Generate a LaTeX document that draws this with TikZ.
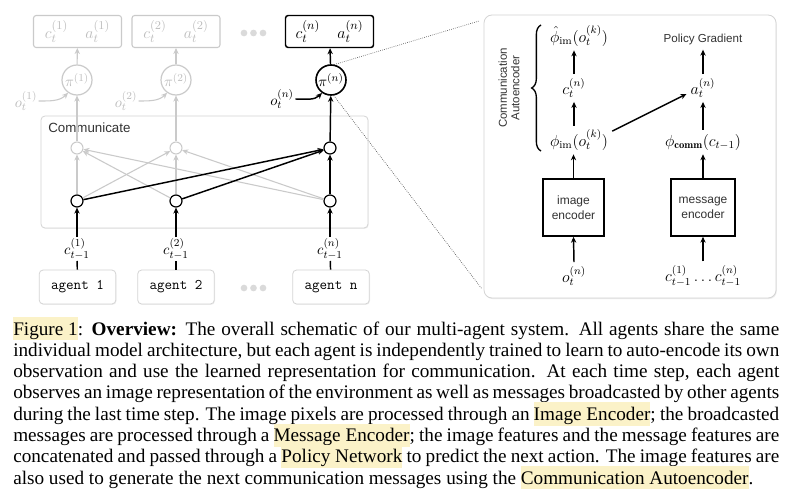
\documentclass[tikz,border=0pt]{standalone}
\usepackage{fontspec}
\newfontfamily\capfont{Liberation Serif}
\newfontfamily\diagsans{Liberation Sans}
\usetikzlibrary{arrows.meta,shadows,decorations.pathreplacing}
\definecolor{fade}{HTML}{CACACA}
\definecolor{fadetext}{HTML}{BEBEBE}
\definecolor{hlyellow}{HTML}{FBF2C8}
\definecolor{boxgray}{HTML}{D4D4D4}
\definecolor{dotline}{HTML}{555555}
\newcommand\hlt[1]{{\setlength{\fboxsep}{0pt}\colorbox{hlyellow}{\rule[-4pt]{0pt}{17.5pt}#1}}}
\begin{document}
\begin{tikzpicture}[x=0.75pt,y=-0.75pt,
  >={Stealth[length=4.5pt,width=4pt]},
  fadeln/.style={draw=fade, line width=0.8pt},
  blkln/.style={draw=black, line width=1.1pt},
  topbox/.style={rectangle, rounded corners=2pt, minimum width=66pt, minimum height=24pt, inner sep=0pt, font=\fontsize{13}{15}\selectfont},
  pinode/.style={circle, minimum size=22.5pt, inner sep=0pt, font=\fontsize{11}{13}\selectfont},
  unitnode/.style={circle, minimum size=9pt, inner sep=0pt, fill=white},
  agentbox/.style={rectangle, rounded corners=3pt, draw=boxgray, fill=white, line width=0.6pt, minimum width=57.5pt, minimum height=25.5pt, inner sep=0pt, font=\ttfamily\fontsize{11}{13}\selectfont, drop shadow={shadow xshift=0.5pt, shadow yshift=-0.7pt, opacity=0.12}},
  lbl/.style={inner sep=1pt, font=\fontsize{11}{13}\selectfont},
  gdot/.style={circle, fill=fade!70, minimum size=5pt, inner sep=0pt},
  rmath/.style={inner sep=3pt, font=\fontsize{12}{14}\selectfont},
  encbox/.style={rectangle, draw=black, line width=1.1pt, minimum height=42.75pt, inner sep=0pt, align=center, font=\diagsans\fontsize{9}{11}\selectfont, text=black!80},
  dotted link/.style={dotline, line width=0.5pt, densely dotted},
  capline/.style={anchor=base west, inner sep=0pt, font=\capfont\fontsize{14.4}{16}\selectfont}
]
\useasboundingbox (0,0) rectangle (788,496);
\fill[white] (0,0) rectangle (788,496);

% ---------------- right panel ----------------
\node[rectangle, rounded corners=6pt, draw=boxgray, fill=white, line width=0.6pt, minimum width=219pt, minimum height=212.25pt, drop shadow={shadow xshift=0.6pt, shadow yshift=-0.8pt, opacity=0.15}] (panel) at (630,156.5) {};

% ---------------- left: communicate box ----------------
\node[rectangle, rounded corners=3pt, draw=boxgray, fill=white, line width=0.6pt, minimum width=245.25pt, minimum height=84pt, drop shadow={shadow xshift=0.5pt, shadow yshift=-0.7pt, opacity=0.12}] (comm) at (204.5,172) {};
\node[anchor=west, inner sep=0pt, font=\diagsans\fontsize{10}{12}\selectfont, text=black!80] (commlbl) at (48,128) {Communicate};

% top output boxes
\node[topbox, draw=fade, line width=0.8pt, text=fadetext] (b1) at (77.5,31.5) {$c_t^{(1)}\quad a_t^{(1)}$};
\node[topbox, draw=fade, line width=0.8pt, text=fadetext] (b2) at (176,31.5) {$c_t^{(2)}\quad a_t^{(2)}$};
\node[topbox, draw=black, line width=1.1pt] (bn) at (329.5,31.5) {$c_t^{(n)}\quad a_t^{(n)}$};
\node[gdot] (td1) at (244,33) {};
\node[gdot] (td2) at (253.5,33) {};
\node[gdot] (td3) at (263,33) {};

% policy circles
\node[pinode, draw=fade, line width=0.9pt, text=fadetext] (p1) at (77,80) {$\pi^{(1)}$};
\node[pinode, draw=fade, line width=0.9pt, text=fadetext] (p2) at (176,80) {$\pi^{(2)}$};
\node[pinode, draw=black, line width=1.2pt] (pn) at (331,80) {$\pi^{(n)}$};

% observation labels
\node[lbl, text=fadetext] (o1) at (26,101) {$o_t^{(1)}$};
\node[lbl, text=fadetext] (o2) at (126,101) {$o_t^{(2)}$};
\node[lbl] (on) at (282,99) {$o_t^{(n)}$};

% units
\node[unitnode, draw=fade, line width=0.8pt] (u1) at (77,148) {};
\node[unitnode, draw=fade, line width=0.8pt] (u2) at (176,148) {};
\node[unitnode, draw=black, line width=0.9pt] (un) at (330,148) {};
\node[unitnode, draw=black, line width=0.9pt] (l1) at (77,201) {};
\node[unitnode, draw=black, line width=0.9pt] (l2) at (176,201) {};
\node[unitnode, draw=black, line width=0.9pt] (ln) at (330,201) {};

% message labels
\node[lbl] (c1) at (77,249) {$c_{t-1}^{(1)}$};
\node[lbl] (c2) at (176,249) {$c_{t-1}^{(2)}$};
\node[lbl] (cn) at (330,249) {$c_{t-1}^{(n)}$};

% agents
\node[agentbox] (a1) at (77.5,287) {agent 1};
\node[agentbox] (a2) at (176,287) {agent 2};
\node[agentbox] (an) at (331,287) {agent n};
\node[gdot] (ad1) at (244,288) {};
\node[gdot] (ad2) at (253.5,288) {};
\node[gdot] (ad3) at (263,288) {};

% gray connectors
\draw[fadeln,->] (l1) -- (u1);
\draw[fadeln,->] (l1) -- (u2);
\draw[fadeln,->] (l2) -- (u1);
\draw[fadeln,->] (l2) -- (u2);
\draw[fadeln,->] (ln) -- (u1);
\draw[fadeln,->] (ln) -- (u2);
\draw[fadeln,->] (u1) -- (p1);
\draw[fadeln,->] (u2) -- (p2);
\draw[fadeln,->] (p1) -- (b1);
\draw[fadeln,->] (p2) -- (b2);
\draw[fadeln,->] (o1.east) to[out=0,in=225] (p1.235);
\draw[fadeln,->] (o2.east) to[out=0,in=225] (p2.235);

% black connectors
\draw[blkln,->] (l1) -- (un);
\draw[blkln,->] (l2) -- (un);
\draw[blkln,->] (ln) -- (un);
\draw[blkln,->] (un) -- (pn);
\draw[blkln,->] (pn) -- (bn);
\draw[blkln,->] (on.east) to[out=0,in=225] (pn.235);
\draw[blkln] (a1) -- (c1);
\draw[blkln] (a2) -- (c2);
\draw[blkln] (an) -- (cn);
\draw[blkln,->] (c1) -- (l1);
\draw[blkln,->] (c2) -- (l2);
\draw[blkln,->] (cn) -- (ln);

% dotted zoom lines
\coordinate (dtop) at (479,21);
\coordinate (dbot) at (482,289);
\draw[dotted link] (pn.78) -- (dtop);
\draw[dotted link] (pn.-80) -- (dbot);

% ---------------- right panel content ----------------
\node[rotate=90, align=center, inner sep=0pt, font=\diagsans\fontsize{8.6}{9.4}\selectfont, text=black!80] (cae) at (509,88) {Communication\\Autoencoder};
\draw[line width=1pt, decorate, decoration={brace, amplitude=7pt}] (541,151) -- (541,25);

\node[rmath] (phihat) at (579,36) {$\hat{\phi}_{\mathrm{im}}(o_t^{(k)})$};
\node[rmath] (ct) at (574,88) {$c_t^{(n)}$};
\node[rmath] (phiim) at (579,140) {$\phi_{\mathrm{im}}(o_t^{(k)})$};
\node[inner sep=3pt, font=\diagsans\fontsize{8.7}{10}\selectfont, text=black!80] (pg) at (703,40) {Policy Gradient};
\node[rmath] (at) at (703,88) {$a_t^{(n)}$};
\node[rmath] (phicomm) at (703,142) {$\phi_{\mathbf{comm}}(c_{t-1})$};
\node[encbox, minimum width=45.75pt] (ienc) at (573.5,207.5) {image\\encoder};
\node[encbox, minimum width=48pt] (menc) at (703,207.5) {message\\encoder};
\node[rmath] (ot) at (574,276) {$o_t^{(n)}$};
\node[rmath] (cs) at (703,276) {$c_{t-1}^{(1)}\ldots c_{t-1}^{(n)}$};

\draw[blkln,->] (ct.north) -- (ct.north |- phihat.south);
\draw[blkln,->] (phiim.north -| ct) -- (ct.south);
\draw[blkln,->] (ienc.north) -- (ienc.north |- phiim.south);
\draw[blkln,->] (ot.north) -- (ienc.south);
\draw[blkln,->] (at.north) -- (at.north |- pg.south);
\draw[blkln,->] (phicomm.north -| at) -- (at.south);
\draw[blkln,->] (menc.north) -- (menc.north |- phicomm.south);
\draw[blkln,->] (cs.north) -- (menc.south);
\draw[blkln,->] (phiim.15) -- (at.200);

% ---------------- caption ----------------
\node[capline] (L1) at (13,335) {\makebox[574.5pt][s]{\hlt{Figure 1}: \textbf{Overview:} The overall schematic of our multi-agent system. All agents share the same}};
\node[capline] (L2) at (13,356.3) {\makebox[574.5pt][s]{individual model architecture, but each agent is independently trained to learn to auto-encode its own}};
\node[capline] (L3) at (13,377.6) {\makebox[574.5pt][s]{observation and use the learned representation for communication. At each time step, each agent}};
\node[capline] (L4) at (13,398.9) {\makebox[574.5pt][s]{observes an image representation of the environment as well as messages broadcasted by other agents}};
\node[capline] (L5) at (13,420.2) {\makebox[574.5pt][s]{during the last time step. The image pixels are processed through an \hlt{Image Encoder}; the broadcasted}};
\node[capline] (L6) at (13,441.5) {\makebox[574.5pt][s]{messages are processed through a \hlt{Message Encoder}; the image features and the message features are}};
\node[capline] (L7) at (13,462.8) {\makebox[574.5pt][s]{concatenated and passed through a \hlt{Policy Network} to predict the next action. The image features are}};
\node[capline] (L8) at (13,484.1) {also used to generate the next communication messages using the \hlt{Communication Autoencoder}.};
\end{tikzpicture}
\end{document}
